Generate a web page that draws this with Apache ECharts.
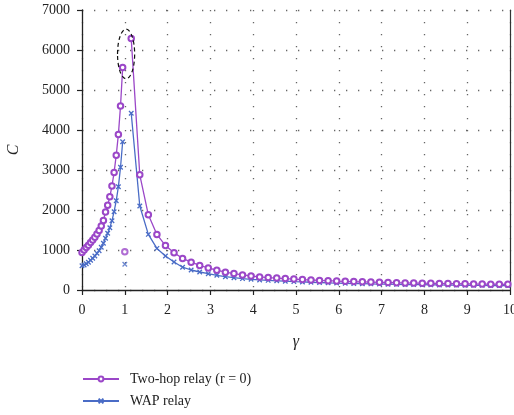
<!DOCTYPE html>
<html><head><meta charset="utf-8">
<script src="https://cdn.jsdelivr.net/npm/echarts@6/dist/echarts.min.js"></script>
<style>html,body{margin:0;padding:0;background:#fff}#c{width:514px;height:415px}</style>
</head><body><div id="c"></div>
<script>
// gamma values (x)
var gammaLeft = [0,0.05,0.1,0.15,0.2,0.25,0.3,0.35,0.4,0.45,0.5,0.55,0.6,0.65,0.7,0.75,0.8,0.85,0.9,0.95];
var gammaRight = [1.15,1.35,1.55,1.75,1.95,2.15,2.35,2.55,2.75,2.95,3.15,3.35,3.55,3.75,3.95,4.15,4.35,4.55,4.75,4.95,
  5.15,5.35,5.55,5.75,5.95,6.15,6.35,6.55,6.75,6.95,7.15,7.35,7.55,7.75,7.95,8.15,8.35,8.55,8.75,8.95,9.15,9.35,9.55,9.75,9.95];
var gammaOutlier = [1.0];

// Two-hop relay (r = 0)
var twoHopLeft = [940,1000,1060,1120,1185,1250,1320,1400,1490,1600,1740,1950,2120,2330,2600,2940,3370,3890,4600,5560];
var twoHopRight = [6290,2880,1880,1390,1110,930,790,695,615,550,495,445,410,378,350,327,310,298,285,272,
  260,250,240,232,224,217,210,204,198,192,187,182,178,174,170,166,163,160,157,154,151,149,146,144,142];
var twoHopOutlier = [958];

// WAP relay
var wapLeft = [608,625,658,692,742,792,850,917,983,1067,1167,1292,1417,1558,1733,1958,2233,2583,3067,3708];
var wapRight = [4420,2100,1390,1040,850,700,570,500,450,408,367,333,308,285,267,252,240,230,220,210,
  202,194,187,180,174,168,163,158,153,149,145,141,138,135,132,129,126,124,121,119,117,115,113,111,109];
var wapOutlier = [642];

var xTicks = [0,1,2,3,4,5,6,7,8,9,10];
var yTicks = [0,1000,2000,3000,4000,5000,6000,7000];
var seriesNames = ['Two-hop relay (r = 0)', 'WAP relay'];

function pairs(xs, ys){ return xs.map(function(x,i){ return [x, ys[i]]; }); }
function joinBroken(xl, yl, xr, yr){
  return pairs(xl, yl).concat([[gammaOutlier[0], null]]).concat(pairs(xr, yr));
}

var PURPLE = '#9b47c8';
var BLUE = '#4a6cc6';
var XSYM = 'path://M0,0L10,10M10,0L0,10';
var FONT = '"Liberation Serif", "DejaVu Serif", serif';

var chart = echarts.init(document.getElementById('c'), null, {renderer:'canvas'});
var option = {
  animation: false,
  backgroundColor: '#fff',
  textStyle: {fontFamily: FONT},
  grid: {left: 82, right: 4, top: 10, bottom: 125, containLabel: false, outerBoundsMode: 'none'},
  legend: {
    orient: 'vertical', left: 77, top: 367, itemWidth: 36, itemHeight: 6, itemGap: 8,
    textStyle: {fontFamily: FONT, fontSize: 14, color: '#222', padding: [0,0,0,6]},
    data: seriesNames
  },
  xAxis: {
    type: 'value', min: xTicks[0], max: xTicks[xTicks.length-1], interval: 1,
    name: 'γ', nameLocation: 'middle', nameGap: 44,
    nameTextStyle: {fontFamily: FONT, fontSize: 16, fontStyle: 'italic', color: '#222'},
    axisLine: {show: true, onZero: false, lineStyle: {color: '#222', width: 1.3}},
    axisTick: {show: true, length: 5, inside: false, lineStyle: {color: '#222', width: 1.2}},
    axisLabel: {fontFamily: FONT, fontSize: 14, color: '#222', margin: 13, showMaxLabel: true,
      formatter: function(v){ return String(v); }},
    splitLine: {show: true, lineStyle: {color: '#666', width: 1.3, type: [1.3, 10.7], dashOffset: 0}}
  },
  yAxis: [{
    type: 'value', min: yTicks[0], max: yTicks[yTicks.length-1], interval: 1000,
    name: 'C', nameLocation: 'middle', nameGap: 60,
    nameTextStyle: {fontFamily: FONT, fontSize: 16, fontStyle: 'italic', color: '#222'},
    axisLine: {show: true, lineStyle: {color: '#222', width: 1.3}},
    axisTick: {show: true, length: 5, lineStyle: {color: '#222', width: 1.2}},
    axisLabel: {fontFamily: FONT, fontSize: 14, color: '#222', margin: 12,
      formatter: function(v){ return String(v); }},
    splitLine: {show: true, lineStyle: {color: '#666', width: 1.3, type: [1.3, 10.7]}}
  }, {
    type: 'value', position: 'right', min: 0, max: 7000,
    axisLine: {show: true, lineStyle: {color: '#333', width: 1.2}},
    axisTick: {show: false}, axisLabel: {show: false}, splitLine: {show: false}
  }],
  series: [
    {
      name: seriesNames[0], type: 'line', data: joinBroken(gammaLeft, twoHopLeft, gammaRight, twoHopRight),
      connectNulls: false, symbol: 'emptyCircle', symbolSize: 5.5, showAllSymbol: true,
      lineStyle: {color: PURPLE, width: 1.3},
      itemStyle: {color: PURPLE, borderColor: PURPLE, borderWidth: 1.3},
      z: 3
    },
    {
      name: seriesNames[1], type: 'line', data: joinBroken(gammaLeft, wapLeft, gammaRight, wapRight),
      connectNulls: false, symbol: XSYM, symbolSize: 4.5, showAllSymbol: true,
      lineStyle: {color: BLUE, width: 1.3},
      itemStyle: {color: BLUE, borderColor: BLUE, borderWidth: 1.3},
      z: 2
    },
    {
      name: seriesNames[0], type: 'scatter', data: pairs(gammaOutlier, twoHopOutlier),
      symbol: 'emptyCircle', symbolSize: 5.5,
      itemStyle: {color: PURPLE, borderColor: PURPLE, borderWidth: 1.3}, z: 3
    },
    {
      name: seriesNames[1], type: 'scatter', data: pairs(gammaOutlier, wapOutlier),
      symbol: XSYM, symbolSize: 4.5,
      itemStyle: {color: BLUE, borderColor: BLUE, borderWidth: 1.3}, z: 2
    }
  ]
};
chart.setOption(option);

// dashed ellipse annotation around the peak (data coordinates)
var ellipseCenter = [1.03, 5900];
var ellipseHalf = [0.2, 620];
var c0 = chart.convertToPixel({gridIndex: 0}, ellipseCenter);
var c1 = chart.convertToPixel({gridIndex: 0}, [ellipseCenter[0] + ellipseHalf[0], ellipseCenter[1] + ellipseHalf[1]]);
chart.setOption({
  graphic: [{
    type: 'ellipse', z: 10,
    shape: {cx: c0[0], cy: c0[1], rx: Math.abs(c1[0]-c0[0]), ry: Math.abs(c1[1]-c0[1])},
    style: {fill: null, stroke: '#111', lineWidth: 1.2, lineDash: [4, 3]}
  }]
});
</script>
</body></html>
